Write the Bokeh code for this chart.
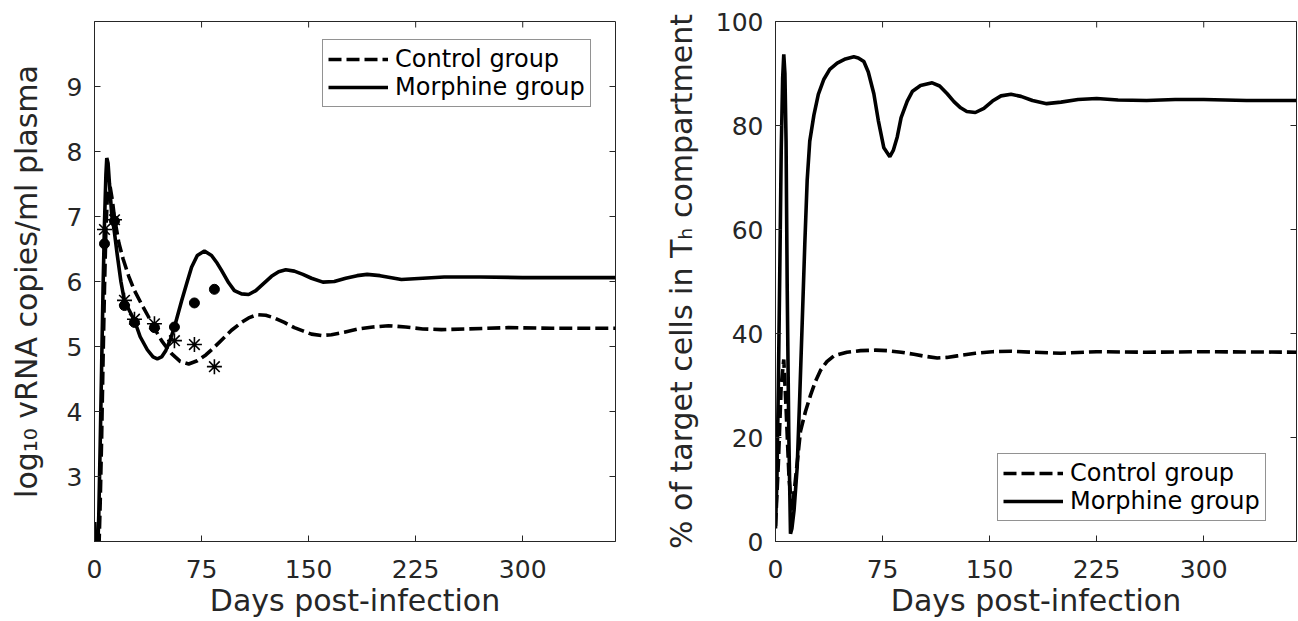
import math
from bokeh.plotting import figure
from bokeh.models import Range1d, FixedTicker, Legend, LegendItem
from bokeh.layouts import row
from bokeh.embed import file_html
from bokeh.resources import INLINE

# ---------------- data: left panel (log10 vRNA) ----------------
left_control_days = [0, 1, 3, 4, 5, 6, 7, 8, 9, 10, 11, 12.5, 14, 17, 20, 24, 28, 33, 38,
                     43, 47, 50, 54, 60, 66, 72, 78, 84, 90, 96, 103, 108, 114, 120, 126,
                     133, 140, 146, 152, 159, 166, 175, 185, 195, 206, 218, 230, 243, 260,
                     290, 320, 365]
left_control_vals = [2.3, 1.7, 1.8, 2.6, 3.6, 4.8, 5.9, 6.8, 7.3, 7.45, 7.45, 7.25, 6.98, 6.6,
                     6.35, 6.08, 5.86, 5.65, 5.45, 5.24, 5.09, 5.0, 4.89, 4.77, 4.73, 4.78,
                     4.87, 4.99, 5.12, 5.25, 5.37, 5.44, 5.49, 5.48, 5.44, 5.37, 5.29, 5.24,
                     5.19, 5.17, 5.18, 5.22, 5.27, 5.30, 5.32, 5.30, 5.27, 5.26, 5.27, 5.29,
                     5.28, 5.28]

left_morphine_days = [0, 0.6, 2, 3, 4, 5, 6, 7, 8, 8.6, 9.5, 10.5, 12, 14, 16, 18.5, 21, 24.5,
                      28, 32, 37, 41, 44, 47, 50, 53, 56, 61, 65, 68, 72, 77, 82, 86, 89, 94,
                      98, 103, 108, 113, 118, 124, 129, 134, 140, 146, 152, 160, 168, 176,
                      184, 191, 200, 215, 230, 245, 270, 300, 365]
left_morphine_vals = [2.3, 1.8, 1.7, 2.4, 3.5, 4.7, 5.9, 6.9, 7.65, 7.9, 7.82, 7.5, 7.05, 6.75,
                      6.4, 6.0, 5.7, 5.55, 5.4, 5.15, 4.95, 4.84, 4.81, 4.84, 4.94, 5.1, 5.3,
                      5.7, 6.0, 6.22, 6.4, 6.47, 6.4, 6.28, 6.17, 5.98, 5.86, 5.81, 5.8, 5.86,
                      5.96, 6.08, 6.15, 6.18, 6.16, 6.11, 6.05, 5.99, 6.0, 6.05, 6.09, 6.11,
                      6.09, 6.03, 6.05, 6.07, 6.07, 6.06, 6.06]

obs_days = [7, 14, 21, 28, 42, 56, 70, 84]
obs_control = [6.80, 6.95, 5.71, 5.42, 5.35, 5.09, 5.03, 4.69]
obs_morphine = [6.58, 6.93, 5.63, 5.37, 5.29, 5.30, 5.67, 5.88]

# ---------------- data: right panel (% target cells in Th) ----------------
right_control_days = [0, 2, 4, 5.8, 7.5, 9.5, 11.7, 14, 17.5, 21, 24.5, 28, 31.5, 36, 40.9,
                      50, 59.6, 70, 78.3, 88, 97, 105, 113.3, 120, 127.3, 140, 152, 165,
                      180, 200, 225, 260, 300, 365]
right_control_vals = [3, 15, 30, 35, 25, 12, 6, 12, 21.2, 25, 28.1, 30.8, 32.9, 34.6, 35.7,
                      36.4, 36.7, 36.8, 36.7, 36.4, 36.0, 35.6, 35.3, 35.4, 35.7, 36.2, 36.5,
                      36.6, 36.4, 36.2, 36.5, 36.4, 36.5, 36.4]

right_morphine_days = [0, 1, 2, 3, 4, 5, 5.8, 6.6, 7.4, 8.2, 9.3, 10.5, 11.5, 13, 15.2, 17,
                       18.7, 20.5, 22.2, 24, 26.9, 30, 33.9, 38, 43.2, 49, 54.9, 58, 61.9,
                       65, 68.9, 72, 75.9, 80.1, 82.5, 85.3, 88, 92.3, 96, 101.6, 109.8, 115,
                       120.3, 125, 129.7, 134, 140, 146, 152, 158, 165, 172, 180, 190, 200,
                       212, 225, 240, 260, 280, 300, 330, 365]
right_morphine_vals = [2.5, 12, 30, 52, 75, 89, 93.7, 90, 77, 48.8, 21, 1.5, 2.5, 6, 14.3, 28,
                       42, 57, 69.5, 77, 82, 86, 88.9, 90.8, 92, 92.8, 93.2, 93.0, 92.3, 90.3,
                       86.1, 81, 75.7, 74.0, 75.2, 77.8, 81.5, 84.7, 86.6, 87.7, 88.2, 87.6,
                       86.1, 84.6, 83.4, 82.7, 82.5, 83.3, 84.7, 85.7, 86.0, 85.6, 84.8, 84.2,
                       84.5, 85.0, 85.2, 84.9, 84.8, 85.0, 85.0, 84.8, 84.8]

x_ticks = [0, 75, 150, 225, 300]
x_limits = (0, 365)
left_y_ticks = [3, 4, 5, 6, 7, 8, 9]
left_y_limits = (2, 10)
right_y_ticks = [0, 20, 40, 60, 80, 100]
right_y_limits = (0, 100)

FONT = "DejaVu Sans"
GRAY = "#262626"
DASH = "13 5"
LW = 3.6


def style(p, yticks, ylimits, ylabel, ylabel_standoff):
    p.xgrid.visible = False
    p.ygrid.visible = False
    p.outline_line_color = GRAY
    p.outline_line_width = 1
    p.background_fill_color = "white"
    p.border_fill_color = "white"
    for ax in p.xaxis:
        ax.ticker = FixedTicker(ticks=x_ticks)
        ax.axis_label = "Days post-infection"
        ax.major_label_standoff = 18
        ax.axis_label_standoff = 2
    for ax in p.yaxis:
        ax.ticker = FixedTicker(ticks=yticks)
        ax.axis_label = ylabel
        ax.major_label_standoff = 12
        ax.axis_label_standoff = ylabel_standoff
    for ax in list(p.xaxis) + list(p.yaxis):
        ax.axis_line_color = GRAY
        ax.major_tick_line_color = GRAY
        ax.major_tick_in = 6
        ax.major_tick_out = 0
        ax.minor_tick_line_color = None
        ax.major_label_text_font = FONT
        ax.major_label_text_font_size = "25px"
        ax.major_label_text_color = GRAY
        ax.axis_label_text_font = FONT
        ax.axis_label_text_font_size = "30px"
        ax.axis_label_text_font_style = "normal"
        ax.axis_label_text_color = GRAY
    # mirrored inward ticks on the top and right edges (clipped to the frame)
    p.scatter(x_ticks, [ylimits[1]] * len(x_ticks), marker="dash", angle=math.pi / 2,
              size=12, line_color=GRAY, line_width=1)
    p.scatter([x_limits[1]] * len(yticks), yticks, marker="dash", size=12,
              line_color=GRAY, line_width=1)


def make_legend(p, r_ctrl, r_morph, loc):
    leg = Legend(items=[LegendItem(label="Control group", renderers=[r_ctrl]),
                        LegendItem(label="Morphine group", renderers=[r_morph])],
                 location=loc)
    leg.border_line_color = GRAY
    leg.border_line_width = 1
    leg.background_fill_color = "white"
    leg.background_fill_alpha = 1
    leg.label_text_font = FONT
    leg.label_text_font_size = "24px"
    leg.label_text_color = "black"
    leg.glyph_width = 60
    leg.glyph_height = 28
    leg.label_height = 28
    leg.label_standoff = 7
    leg.padding = 5
    leg.spacing = 0
    leg.margin = 0
    p.add_layout(leg)


# ---------------- left figure ----------------
p1 = figure(width=648, height=621, output_backend="svg", toolbar_location=None,
            x_range=Range1d(*x_limits), y_range=Range1d(*left_y_limits),
            min_border_left=94, min_border_right=33, min_border_top=21, min_border_bottom=80)
style(p1, left_y_ticks, left_y_limits, "log\u2081\u2080 vRNA copies/ml plasma", 20)

rc1 = p1.line(left_control_days, left_control_vals, line_color="black", line_width=LW,
              line_dash=DASH)
rm1 = p1.line(left_morphine_days, left_morphine_vals, line_color="black", line_width=LW)
p1.scatter(obs_days, obs_control, marker="asterisk", size=15, line_color="black",
           line_width=1.6)
p1.scatter(obs_days, obs_morphine, marker="circle", size=10, fill_color="black",
           line_color="black")
make_legend(p1, rc1, rm1, (228, 434))

# ---------------- right figure ----------------
p2 = figure(width=650, height=621, output_backend="svg", toolbar_location=None,
            x_range=Range1d(*x_limits), y_range=Range1d(*right_y_limits),
            min_border_left=127, min_border_right=2, min_border_top=21, min_border_bottom=80)
style(p2, right_y_ticks, right_y_limits, "% of target cells in T\u2095 compartment", 14)

rc2 = p2.line(right_control_days, right_control_vals, line_color="black", line_width=LW,
              line_dash=DASH)
rm2 = p2.line(right_morphine_days, right_morphine_vals, line_color="black", line_width=LW)
make_legend(p2, rc2, rm2, (222, 20))

layout = row(p1, p2)
open("out.html", "w").write(file_html(layout, INLINE))
